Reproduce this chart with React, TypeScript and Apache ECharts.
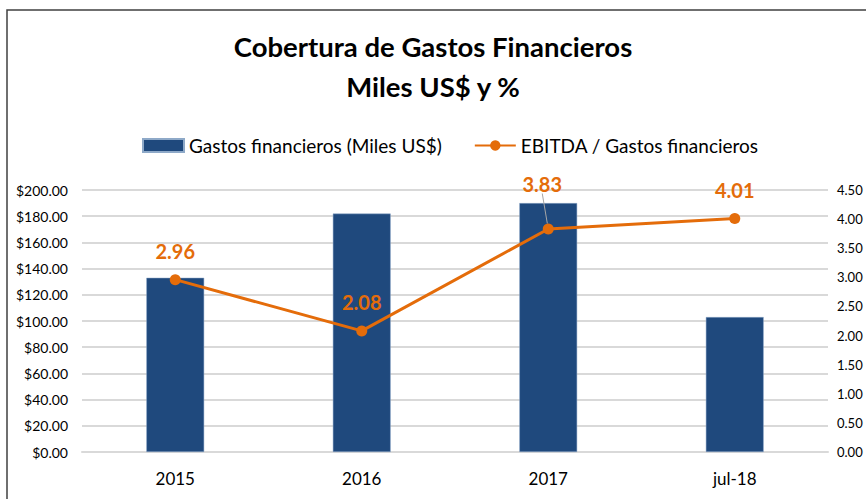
import React, { useEffect, useRef } from "react";
import * as echarts from "echarts";

const categories = ["2015", "2016", "2017", "jul-18"];
const gastosFinancieros = [133, 182, 190, 103];
const ebitdaRatio = [2.96, 2.08, 3.83, 4.01];
const leftTicks = { min: 0, max: 200, interval: 20 };
const rightTicks = { min: 0, max: 4.5, interval: 0.5 };

const FONT = "Lato, 'Open Sans', sans-serif";
const BLUE = "#1F497D";
const ORANGE = "#E46C0A";

export default function App() {
  const ref = useRef<HTMLDivElement>(null);
  useEffect(() => {
    if (!ref.current) return;
    const chart = echarts.init(ref.current, null, { renderer: "svg" });
    chart.setOption({
      animation: false,
      backgroundColor: "#fff",
      textStyle: { fontFamily: FONT },
      title: {
        text: "Cobertura de Gastos Financieros\nMiles US$ y %",
        left: "center",
        top: 21,
        textStyle: {
          fontFamily: FONT,
          fontSize: 27.5,
          fontWeight: "bold",
          color: "#000",
          lineHeight: 40,
        },
      },
      graphic: [
        {
          type: "rect",
          shape: { x: 7, y: 10, width: 900, height: 520 },
          style: { fill: "none", stroke: "#404040", lineWidth: 1.5 },
          silent: true,
        },
      ],
      legend: {
        top: 131,
        left: 137,
        itemGap: 32,
        itemWidth: 41,
        itemHeight: 13,
        textStyle: { fontFamily: FONT, fontSize: 19, color: "#000" },
        data: [
          { name: "Gastos financieros (Miles US$)", icon: "rect" },
          { name: "EBITDA / Gastos financieros" },
        ],
      },
      grid: {
        left: 82,
        right: 38,
        top: 190,
        bottom: 47,
        containLabel: false,
        outerBoundsMode: "none",
      },
      xAxis: {
        type: "category",
        data: categories,
        axisTick: { show: false },
        axisLine: { show: true, lineStyle: { color: "#D9D9D9", width: 2 } },
        axisLabel: { fontFamily: FONT, fontSize: 17, color: "#000", margin: 18 },
      },
      yAxis: [
        {
          type: "value",
          min: leftTicks.min,
          max: leftTicks.max,
          interval: leftTicks.interval,
          axisLine: { show: false },
          axisTick: { show: false },
          splitLine: { lineStyle: { color: "#D9D9D9", width: 2 } },
          axisLabel: {
            fontFamily: FONT,
            fontSize: 14,
            color: "#000",
            margin: 14,
            formatter: (v: number) => "$" + v.toFixed(2),
          },
        },
        {
          type: "value",
          min: rightTicks.min,
          max: rightTicks.max,
          interval: rightTicks.interval,
          position: "right",
          axisLine: { show: false },
          axisTick: { show: false },
          splitLine: { show: false },
          axisLabel: {
            fontFamily: FONT,
            fontSize: 13,
            color: "#000",
            margin: 9,
            formatter: (v: number) => v.toFixed(2),
          },
        },
      ],
      series: [
        {
          name: "Gastos financieros (Miles US$)",
          type: "bar",
          yAxisIndex: 0,
          data: gastosFinancieros,
          barWidth: "31%",
          itemStyle: { color: BLUE, borderColor: "#8EA9C8", borderWidth: 0.5 },
        },
        {
          name: "EBITDA / Gastos financieros",
          type: "line",
          yAxisIndex: 1,
          data: ebitdaRatio.map((v, i) =>
            i === 2
              ? { value: v, labelLine: { show: true, lineStyle: { color: "#A6A6A6", width: 1 } } }
              : v
          ),
          symbol: "circle",
          symbolSize: 11,
          lineStyle: { color: ORANGE, width: 3 },
          itemStyle: { color: ORANGE },
          label: {
            show: true,
            position: "top",
            distance: 13,
            fontFamily: FONT,
            fontSize: 20,
            fontWeight: "bold",
            color: ORANGE,
            formatter: (p: any) => Number(p.value).toFixed(2),
          },
          labelLine: { show: false },
          labelLayout: (p: any) => (p.dataIndex === 2 ? { dx: -6, dy: -17 } : {}),
        },
      ],
    });
    return () => chart.dispose();
  }, []);
  return (
    <div
      ref={ref}
      style={{ position: "absolute", left: 0, top: 0, width: 866, height: 499 }}
    />
  );
}
